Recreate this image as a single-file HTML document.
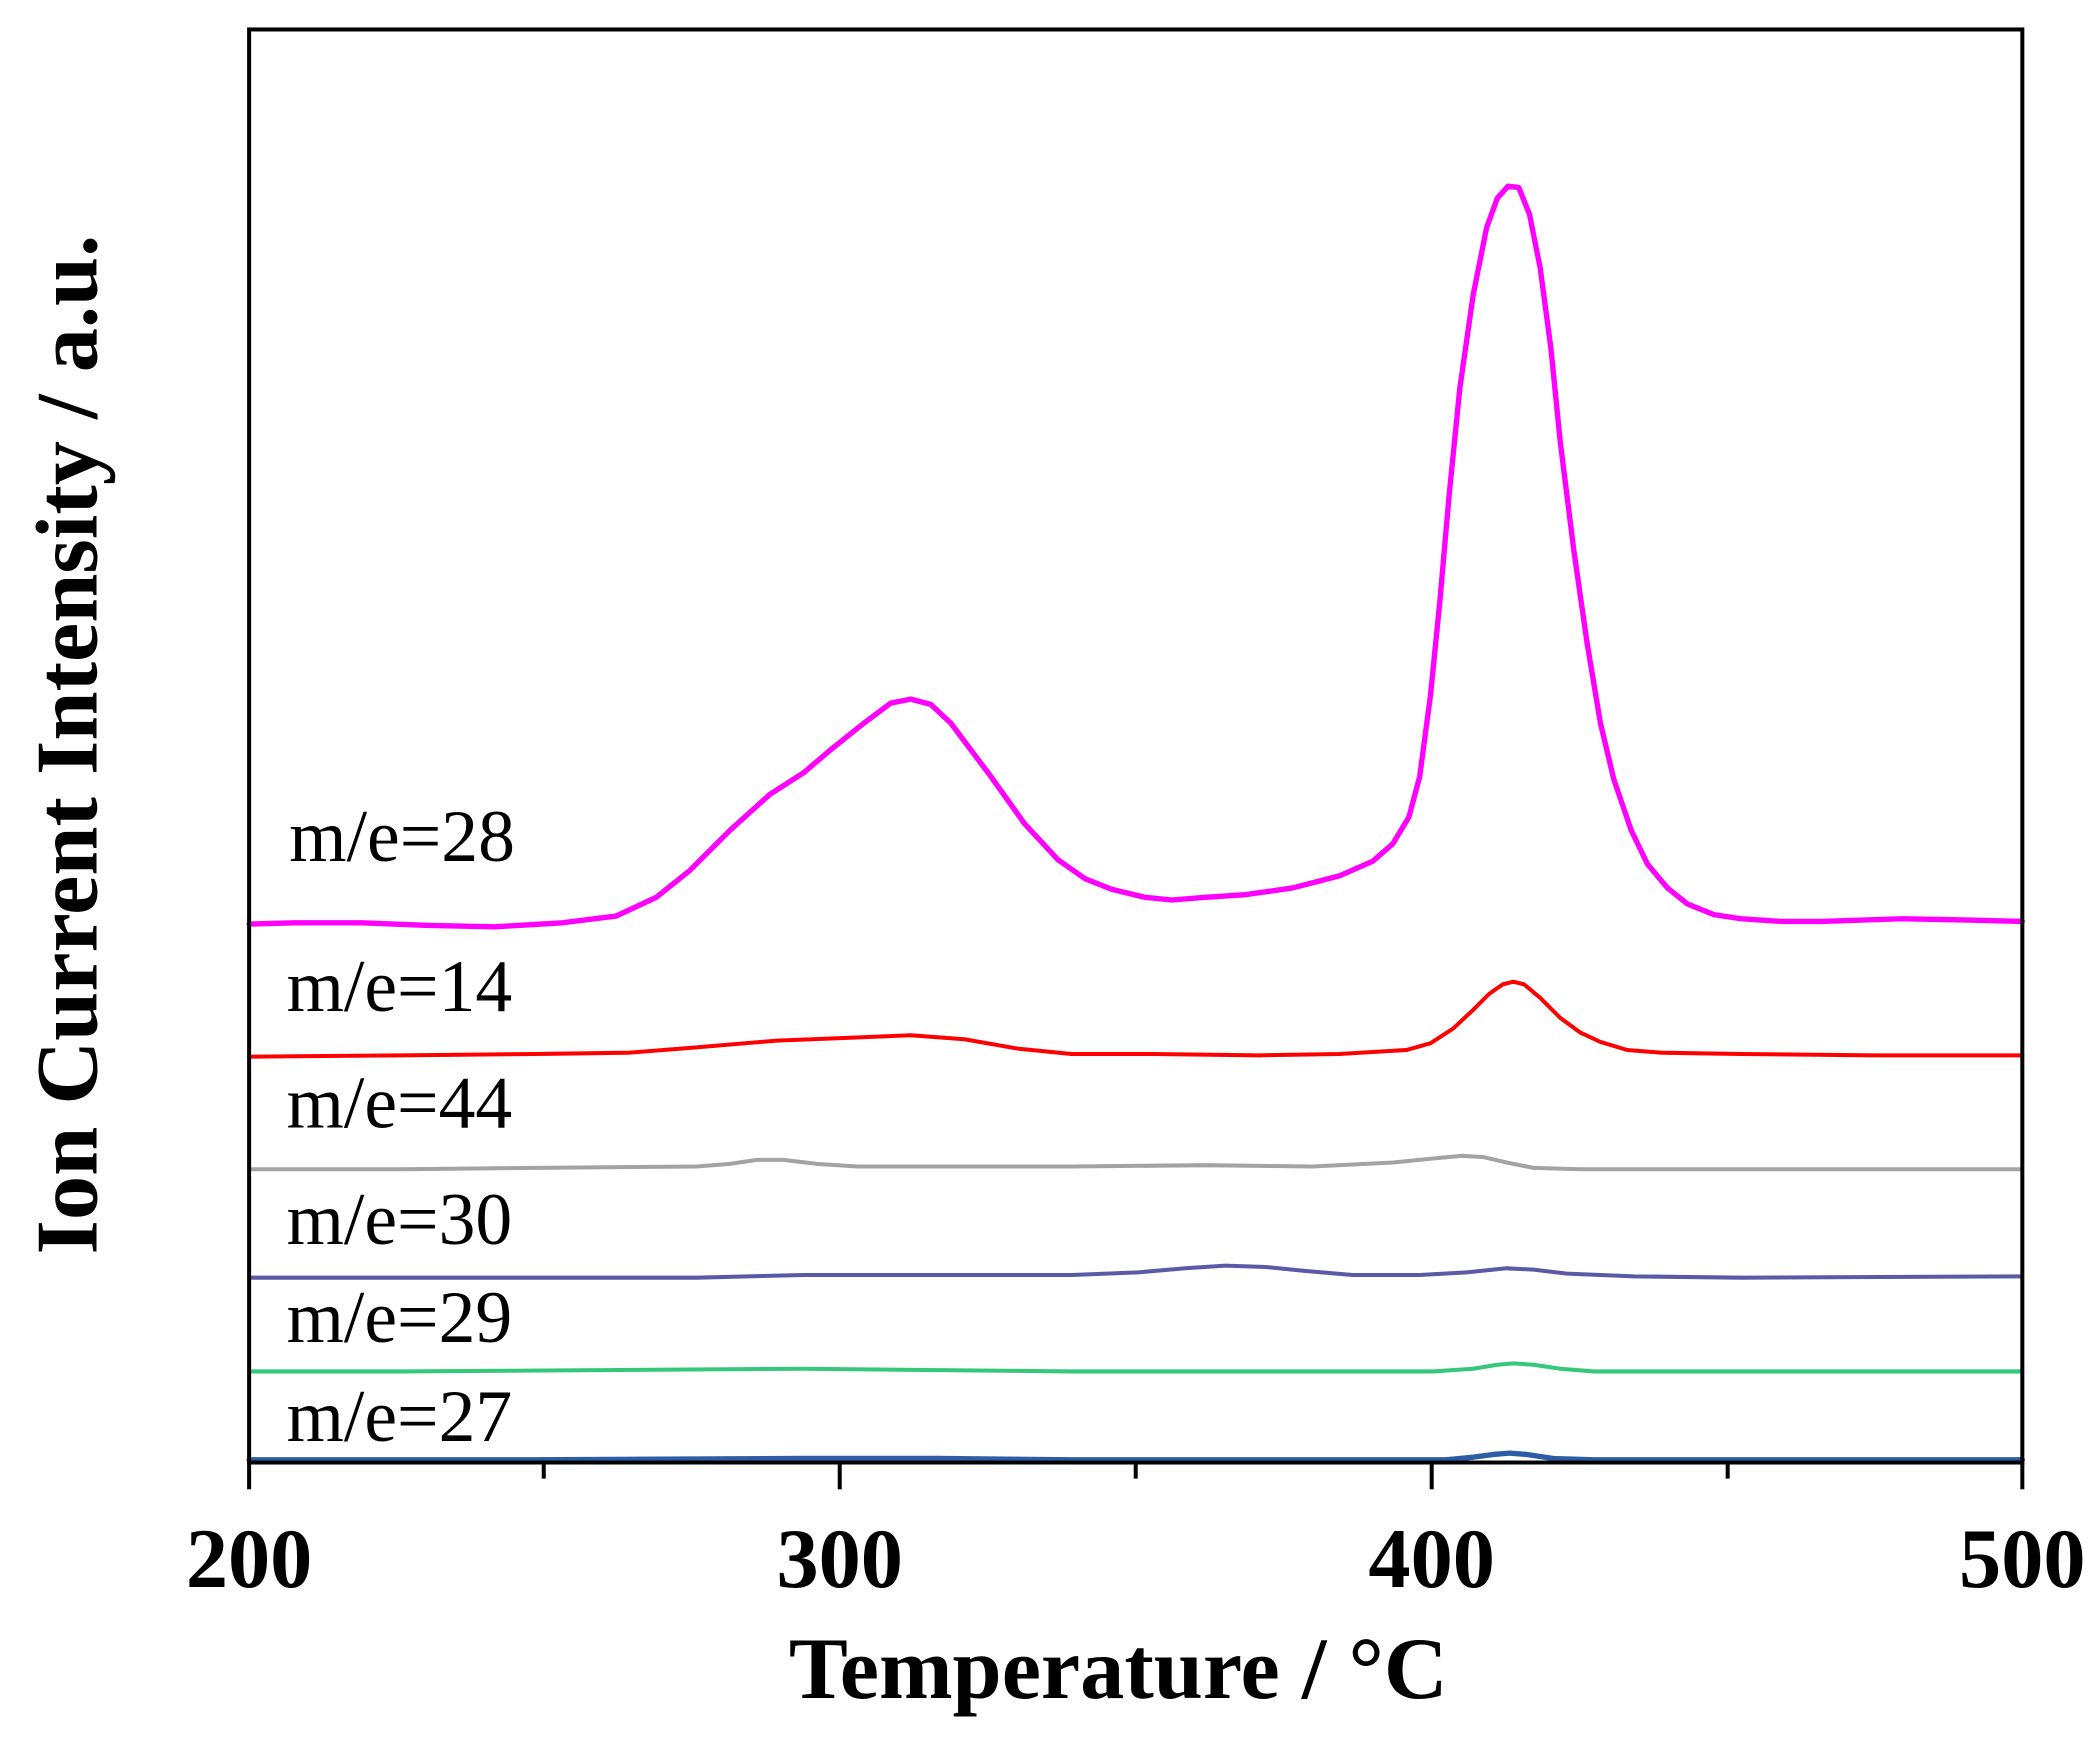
<!DOCTYPE html>
<html><head><meta charset="utf-8"><style>
html,body{margin:0;padding:0;background:#fff;}
svg{display:block;}
</style></head><body>
<svg width="2100" height="1738" viewBox="0 0 1568 1297.7" preserveAspectRatio="none" xmlns="http://www.w3.org/2000/svg">
<rect x="0" y="0" width="1568" height="1298" fill="#fff"/>
<g fill="none" stroke-linejoin="round" stroke-linecap="round">
<polyline stroke="#ff00ff" stroke-width="4" points="186,690 220,689 270,689 320,691 370,692 420,689 460,684 490,670 515,650 545,620 575,593 600,577 620,560 645,540 665,525 680,522 695,526 710,540 740,580 765,615 790,642 810,656 830,664 855,670 875,672 900,670 930,668 965,663 1000,654 1025,643 1040,630 1052,610 1060,580 1068,520 1075,450 1082,370 1090,290 1100,220 1110,170 1118,148 1126,139 1134,140 1142,160 1150,200 1158,260 1165,330 1175,410 1185,480 1195,540 1205,582 1218,620 1230,645 1245,663 1260,675 1280,683 1300,686 1330,688 1360,688 1420,686 1470,687 1510,688"/>
<polyline stroke="#ff0000" stroke-width="3" points="186,789 300,788 400,787 470,786 520,782 580,777 630,775 680,773 720,776 760,783 800,787 860,787 940,788 1000,787 1050,784 1068,779 1085,768 1100,754 1112,742 1122,735 1130,733 1138,735 1150,745 1165,760 1180,771 1195,778 1215,784 1240,786 1300,787 1400,788 1510,788"/>
<polyline stroke="#a3a3a3" stroke-width="3" points="186,873 300,873 400,872 520,871 545,869 565,866 585,866 610,869 640,871 700,871 800,871 900,870 980,871 1040,868 1070,865 1092,863 1108,864 1125,868 1145,872 1180,873 1300,873 1510,873"/>
<polyline stroke="#5a5aa6" stroke-width="3" points="186,954 400,954 520,954 600,952 700,952 800,952 850,950 885,947 915,945 945,946 975,949 1010,952 1060,952 1095,950 1125,947 1145,948 1170,951 1220,953 1300,954 1510,953"/>
<polyline stroke="#35c879" stroke-width="3" points="186,1024 300,1024 450,1023 600,1022 700,1023 800,1024 1000,1024 1070,1024 1100,1022 1118,1019 1130,1018 1145,1019 1165,1022 1190,1024 1300,1024 1510,1024"/>
<polyline stroke="#2b5ea6" stroke-width="4" points="186,1090 400,1090 600,1089 700,1089 800,1090 1000,1090 1080,1090 1100,1088 1115,1086 1127,1085 1140,1086 1160,1089 1190,1090 1300,1090 1510,1090"/>
</g>
<rect x="186" y="22" width="1324" height="1070" fill="none" stroke="#000" stroke-width="3"/>
<g stroke="#000" stroke-width="3">
<line x1="186" y1="1092" x2="186" y2="1112"/>
<line x1="627" y1="1092" x2="627" y2="1112"/>
<line x1="1069" y1="1092" x2="1069" y2="1112"/>
<line x1="1510" y1="1092" x2="1510" y2="1112"/>
<line x1="406" y1="1092" x2="406" y2="1104"/>
<line x1="848" y1="1092" x2="848" y2="1104"/>
<line x1="1290" y1="1092" x2="1290" y2="1104"/>
</g>
<g font-family="'Liberation Serif', serif" font-weight="bold" font-size="63" text-anchor="middle" fill="#000">
<text x="186" y="1185">200</text>
<text x="627" y="1185">300</text>
<text x="1069" y="1185">400</text>
<text x="1510" y="1185">500</text>
<text x="835" y="1268" font-size="66">Temperature / °C</text>
<text transform="translate(72,556) rotate(-90)" font-size="66">Ion Current Intensity / a.u.</text>
</g>
<g font-family="'Liberation Serif', serif" font-size="55" fill="#000">
<text x="216" y="643">m/e=28</text>
<text x="214" y="755">m/e=14</text>
<text x="214" y="842">m/e=44</text>
<text x="214" y="929">m/e=30</text>
<text x="214" y="1002">m/e=29</text>
<text x="214" y="1076">m/e=27</text>
</g>
</svg>
</body></html>
